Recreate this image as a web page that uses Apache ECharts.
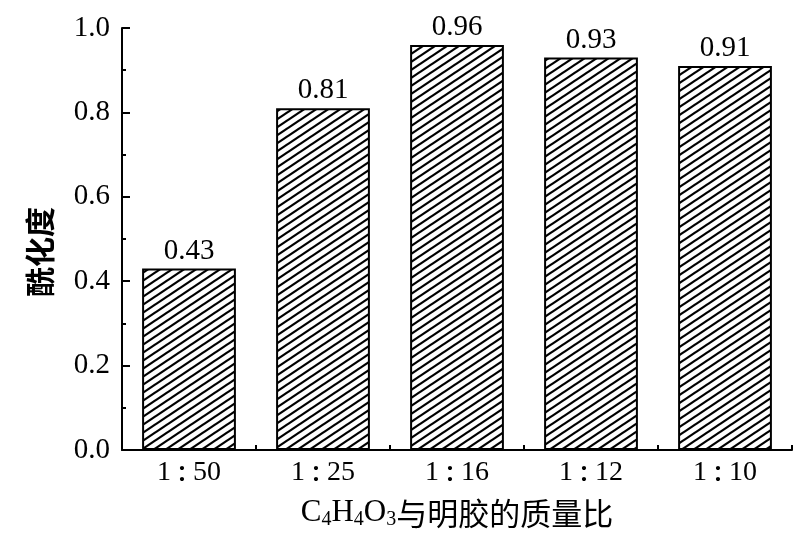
<!DOCTYPE html>
<html>
<head>
<meta charset="utf-8">
<script src="https://cdn.jsdelivr.net/npm/echarts@6/dist/echarts.min.js"></script>
<style>html,body{margin:0;padding:0;background:#fff;}#c{width:800px;height:541px;}</style>
</head>
<body>
<div id="c"></div>
<script>
const categories = ['1：50', '1：25', '1：16', '1：12', '1：10'];
const values = [0.43, 0.81, 0.96, 0.93, 0.91];
const yTicks = [0.0, 0.2, 0.4, 0.6, 0.8, 1.0];

function hatch() {
  const w = 12, h = 8;
  const c = document.createElement('canvas');
  c.width = w; c.height = h;
  const g = c.getContext('2d');
  g.fillStyle = '#fff'; g.fillRect(0, 0, w, h);
  g.strokeStyle = '#000'; g.lineWidth = 2.2;
  [-h, 0, h].forEach(function (o) {
    g.beginPath(); g.moveTo(-2, h + o + 2 * h / w); g.lineTo(w + 2, o - 2 * h / w); g.stroke();
  });
  return c;
}

const serif = '"Liberation Serif", "Times New Roman", "Noto Sans CJK SC", serif';
const cjk = '"Noto Sans CJK SC", sans-serif';
const chart = echarts.init(document.getElementById('c'), null, {renderer: 'canvas'});
chart.setOption({
  animation: false,
  backgroundColor: '#fff',
  grid: {left: 122, right: 8, top: 28, bottom: 91, containLabel: false, outerBoundsMode: 'none'},
  xAxis: {
    type: 'category',
    data: categories,
    boundaryGap: true,
    axisLine: {lineStyle: {color: '#000', width: 2}},
    axisTick: {show: true, inside: true, length: 5, lineStyle: {color: '#000', width: 2}},
    axisLabel: {
      color: '#000', fontFamily: serif, fontSize: 28, margin: 9, interval: 0, hideOverlap: false,
      formatter: function (v) {
        const parts = v.split('：');
        return parts[0] + '{c|：}' + parts[1];
      },
      rich: {c: {fontFamily: '"Noto Sans CJK TC", sans-serif', fontSize: 22, fontWeight: 'bold', color: '#000'}}
    },
    name: 'C{s|4}H{s|4}O{s|3}{c|与明胶的质量比}',
    nameLocation: 'middle',
    nameGap: 46,
    nameTextStyle: {
      color: '#000', fontFamily: serif, fontSize: 31,
      rich: {
        s: {fontFamily: serif, fontSize: 20, color: '#000', verticalAlign: 'bottom', padding: [14, 0, 0, 0]},
        c: {fontFamily: cjk, fontSize: 31, color: '#000'}
      }
    }
  },
  yAxis: {
    type: 'value',
    min: 0, max: 1, interval: 0.2,
    splitLine: {show: false},
    axisLine: {show: true, lineStyle: {color: '#000', width: 2}},
    axisTick: {show: true, inside: true, length: 8, lineStyle: {color: '#000', width: 2}},
    minorTick: {show: true, splitNumber: 2, length: 4, lineStyle: {color: '#000', width: 2}},
    axisLabel: {
      color: '#000', fontFamily: serif, fontSize: 29, margin: 12,
      formatter: function (v) { return v.toFixed(1); }
    },
    name: '酰化度',
    nameLocation: 'middle',
    nameGap: 67,
    nameTextStyle: {color: '#000', fontFamily: cjk, fontSize: 30, fontWeight: 'bold', padding: [0, 26, 0, 0]}
  },
  series: [{
    type: 'bar',
    data: values,
    barWidth: '70%',
    itemStyle: {
      color: {image: hatch(), repeat: 'repeat'},
      borderColor: '#000', borderWidth: 2
    },
    label: {
      show: true, position: 'top', distance: 3,
      color: '#000', fontFamily: serif, fontSize: 29,
      formatter: function (p) { return p.value.toFixed(2); }
    }
  }]
});
</script>
</body>
</html>
